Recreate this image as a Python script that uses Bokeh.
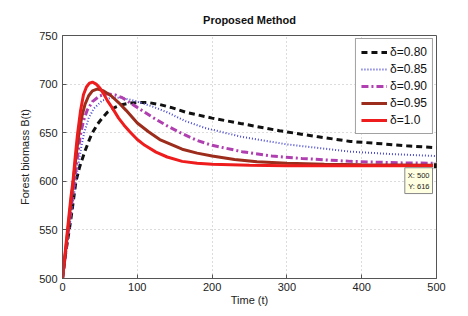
from bokeh.plotting import figure
from bokeh.models import Range1d, Legend, LegendItem, Label, Title
from bokeh.embed import file_html
from bokeh.resources import INLINE

# ---- data ----
labels = ["δ=0.80", "δ=0.85", "δ=0.90", "δ=0.95", "δ=1.0"]

t_080 = [0, 4, 8, 11, 14, 18, 23, 30, 36, 40, 47, 53, 60, 70, 78, 90, 100, 115, 130, 145, 165, 200, 238, 290, 340, 385, 420, 460, 500]
b_080 = [500, 525, 545, 560, 577, 600, 615, 631, 643, 650, 659, 665, 671, 676, 678.5, 680.5, 681, 681, 679, 676, 671, 665, 659.5, 652, 646, 641, 639, 636.5, 634.5]

t_085 = [0, 4, 8, 12, 16, 20, 25, 29, 35, 42, 53, 65, 78, 90, 100, 120, 140, 164, 190, 238, 300, 385, 440, 500]
b_085 = [500, 522, 545, 568, 590, 612, 635, 650, 665, 675, 683, 686, 686, 684, 682, 677, 671, 662, 655, 646, 638, 630.5, 628, 626]

t_090 = [0, 4, 8, 12, 16, 20, 24, 28, 33, 40, 50, 60, 70, 80, 90, 100, 120, 140, 160, 180, 200, 240, 280, 320, 385, 450, 500]
b_090 = [500, 525, 550, 575, 600, 625, 648, 662, 673, 682, 688, 690, 689, 686, 681, 676, 666, 657, 649, 642, 637, 630.5, 626, 623.5, 620.5, 619, 618.5]

t_095 = [0, 4, 8, 11, 14, 18, 22, 26, 30, 35, 40, 47, 55, 65, 75, 85, 100, 115, 130, 145, 160, 180, 200, 230, 260, 300, 350, 400, 500]
b_095 = [500, 527, 555, 576, 597, 625, 650, 667, 679, 688, 693, 695, 693, 688, 681, 673, 660, 651, 643, 638, 633, 629, 626, 622.5, 620, 618.5, 617.5, 617, 616.5]

t_100 = [0, 4, 8, 11, 14, 17, 20, 24, 28, 32, 36, 40, 45, 50, 55, 60, 67, 75, 82, 90, 100, 110, 125, 140, 160, 180, 200, 250, 300, 400, 500]
b_100 = [500, 530, 560, 582, 600, 625, 648, 672, 689, 697, 701, 702, 700, 696, 690, 683, 675, 665, 658, 651, 643, 637, 630, 625, 620.5, 618.5, 617.5, 616.5, 616, 616, 616]

tip_x = [500]
tip_y = [616]

x_ticks = [0, 100, 200, 300, 400, 500]
y_ticks = [500, 550, 600, 650, 700, 750]

FONT = "Liberation Sans"

p = figure(width=460, height=308, output_backend="svg", toolbar_location=None,
           x_range=Range1d(0, 500), y_range=Range1d(500, 750),
           min_border_left=62, min_border_right=24, min_border_top=35, min_border_bottom=29,
           background_fill_color="white", border_fill_color="white")

p.title = Title(text="Proposed Method", align="center", text_font=FONT,
                text_font_size="11px", text_font_style="bold", text_color="#111111",
                standoff=20)

p.outline_line_color = "#555555"
p.outline_line_width = 1

for ax in (p.xaxis[0], p.yaxis[0]):
    ax.major_label_text_font = FONT
    ax.major_label_text_font_size = "11px"
    ax.major_label_text_color = "#222222"
    ax.axis_label_text_font = FONT
    ax.axis_label_text_font_size = "11px"
    ax.axis_label_text_font_style = "normal"
    ax.axis_label_text_color = "#222222"
    ax.axis_line_color = "#555555"
    ax.major_tick_line_color = "#555555"
    ax.major_tick_in = 4
    ax.major_tick_out = 0
    ax.minor_tick_line_color = None

p.xaxis.major_label_standoff = 4
p.xaxis.axis_label_standoff = 0
p.yaxis.major_label_standoff = 5
p.yaxis.axis_label_standoff = 5

p.xaxis.ticker = x_ticks
p.yaxis.ticker = y_ticks
p.xaxis.axis_label = "Time (t)"
p.yaxis.axis_label = "Forest biomass B(t)"

p.grid.grid_line_color = "#b8b8b8"
p.grid.grid_line_dash = "1 3"
p.grid.grid_line_width = 1
p.xgrid.ticker = x_ticks
p.ygrid.ticker = y_ticks

r1 = p.line(t_080, b_080, line_color="#111111", line_width=3, line_dash="6 4")
r2 = p.line(t_085, b_085, line_color="#4a4ad0", line_width=2, line_dash="1 2")
r3 = p.line(t_090, b_090, line_color="#b040b0", line_width=3, line_dash="7 3 2 3")
r4 = p.line(t_095, b_095, line_color="#9c2c1c", line_width=3)
r5 = p.line(t_100, b_100, line_color="#ee1c1c", line_width=3)

legend = Legend(items=[LegendItem(label=l, renderers=[r]) for l, r in zip(labels, [r1, r2, r3, r4, r5])],
                location="top_right", margin=3, padding=5, spacing=1,
                label_height=16, glyph_height=16, glyph_width=26, label_standoff=3,
                label_text_font=FONT, label_text_font_size="12px", label_text_color="#111111",
                border_line_color="#444444", border_line_width=1,
                background_fill_color="white", background_fill_alpha=1)
p.add_layout(legend, "center")

# data tip
p.scatter(tip_x, tip_y, marker="square", size=6, fill_color="#111111", line_color="#dddddd")
tip = Label(x=tip_x[0], y=tip_y[0], text=f"X: {tip_x[0]}\nY: {tip_y[0]}",
            x_offset=-4, y_offset=-2, text_align="right", text_baseline="top",
            text_font=FONT, text_font_size="7.5px", text_color="#222222",
            background_fill_color="#ffffe1", background_fill_alpha=1,
            border_line_color="#888888", border_line_width=1, padding=3)
p.add_layout(tip)

open("out.html", "w").write(file_html(p, INLINE))
